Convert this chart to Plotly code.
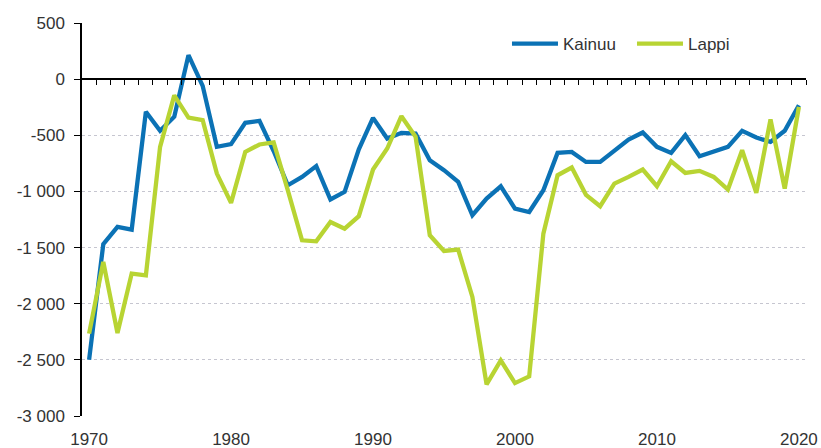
import plotly.graph_objects as go

years = list(range(1970, 2021))

kainuu = [-2500, -1470, -1316, -1340, -291, -460, -335, 214, -60, -603,
          -579, -389, -372, -640, -945, -871, -775, -1072, -1004, -625,
          -345, -529, -478, -484, -722, -811, -915, -1212, -1064, -954,
          -1153, -1183, -989, -657, -648, -737, -737, -639, -538, -475,
          -603, -657, -499, -686, -648, -603, -460, -520, -559, -460,
          -232]

lappi = [-2267, -1628, -2261, -1732, -1747, -603, -145, -342, -365, -841,
         -1102, -648, -582, -564, -990, -1435, -1444, -1272, -1331, -1221,
         -805, -618, -330, -514, -1390, -1530, -1518, -1940, -2718, -2504,
         -2707, -2647, -1376, -856, -787, -1030, -1132, -930, -871, -805,
         -954, -731, -835, -817, -871, -983, -633, -1013, -359, -974,
         -247]

y_ticks = [500, 0, -500, -1000, -1500, -2000, -2500, -3000]
y_labels = ["500", "0", "-500", "-1 000", "-1 500", "-2 000",
            "-2 500", "-3 000"]
x_ticks = [1970, 1980, 1990, 2000, 2010, 2020]

BLUE = "#0b72b5"
LIME = "#b8d433"
FONT = "Liberation Sans, Arial, sans-serif"
TXT = "#333333"

fig = go.Figure()
fig.add_trace(go.Scatter(x=years, y=kainuu, name="Kainuu", mode="lines",
                         line=dict(color=BLUE, width=4.3)))
fig.add_trace(go.Scatter(x=years, y=lappi, name="Lappi", mode="lines",
                         line=dict(color=LIME, width=4.3)))
# helper trace for the axis drawn at y = 0
fig.add_trace(go.Scatter(x=years, y=[None] * len(years), xaxis="x2",
                         showlegend=False, hoverinfo="skip"))

xr = [years[0] - 0.5, years[-1] + 0.5]
boundaries = [y + 0.5 for y in years]

fig.update_layout(
    width=821, height=448,
    margin=dict(l=82, r=15, t=23, b=32, autoexpand=False),
    paper_bgcolor="white", plot_bgcolor="white",
    font=dict(family=FONT, size=17, color=TXT),
    showlegend=True,
    legend=dict(orientation="h", x=0.587, y=0.992, xanchor="left", yanchor="top",
                font=dict(size=17, color=TXT), bgcolor="rgba(0,0,0,0)",
                itemwidth=46, tracegroupgap=0, entrywidth=64,
                entrywidthmode="pixels"),
    xaxis=dict(range=xr, tickmode="array", tickvals=x_ticks,
               ticktext=[str(v) for v in x_ticks], showgrid=False,
               showline=False, ticks="", zeroline=False, automargin=False,
               ticklabelstandoff=11,
               tickfont=dict(size=17, color=TXT)),
    xaxis2=dict(range=xr, overlaying="x", anchor="free",
                position=(0 - y_ticks[-1]) / (y_ticks[0] - y_ticks[-1]),
                side="bottom", tickmode="array", tickvals=boundaries,
                showticklabels=False, ticks="outside", ticklen=5,
                tickcolor="black", tickwidth=1, showline=True,
                linecolor="black", linewidth=1.5, showgrid=False,
                zeroline=False, automargin=False),
    yaxis=dict(range=[y_ticks[-1], y_ticks[0]], tickmode="array",
               tickvals=y_ticks, ticktext=y_labels, showline=True,
               linecolor="black", linewidth=1.5, ticks="outside", ticklen=6,
               tickcolor="black", showgrid=True, gridcolor="#c6c6d0",
               griddash="dot", gridwidth=1, zeroline=False, automargin=False,
               ticklabelstandoff=6,
               tickfont=dict(size=17, color=TXT)),
)

fig.write_html("out.html", config={"displayModeBar": False},
               post_script="document.body.style.margin='0';document.body.style.padding='0';")
